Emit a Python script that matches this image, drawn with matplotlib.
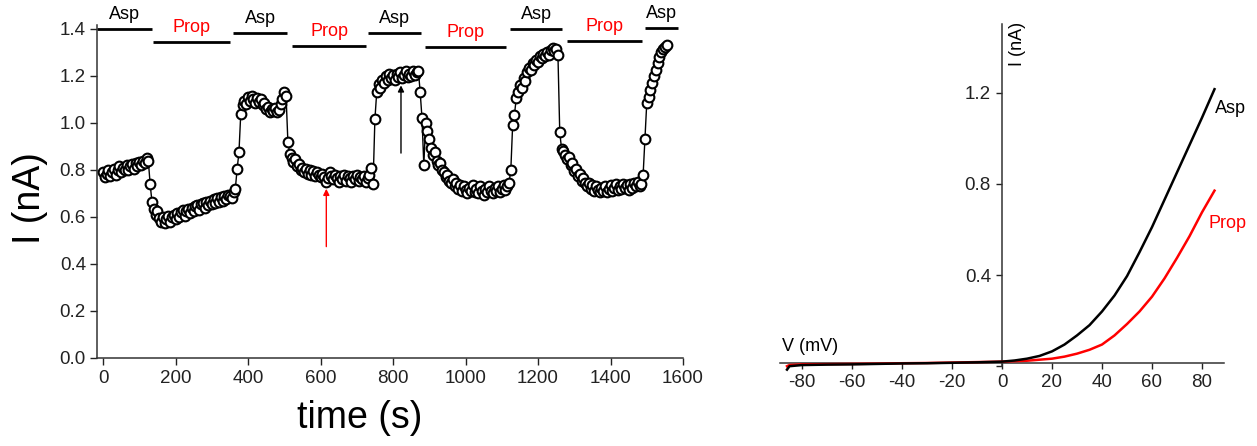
import numpy as np
import matplotlib
matplotlib.use("Agg")
import matplotlib.pyplot as plt

plt.rcParams['font.family'] = ['Liberation Sans', 'DejaVu Sans']

# ---------------- Left panel: current vs time (sampled every 5 s) ----------------
seg_starts = [0, 130, 370, 510, 750, 875, 1125, 1260, 1490]
seg1 = [0.790, 0.770, 0.785, 0.800, 0.775, 0.790, 0.805, 0.780, 0.800, 0.815,
        0.790, 0.810, 0.800, 0.820, 0.800, 0.815, 0.825, 0.805, 0.830, 0.815,
        0.835, 0.820, 0.840, 0.830, 0.850, 0.840]
seg2 = [0.740, 0.665, 0.635, 0.610, 0.625, 0.595, 0.580, 0.600, 0.575, 0.590,
        0.605, 0.580, 0.600, 0.610, 0.590, 0.615, 0.600, 0.620, 0.630, 0.605,
        0.625, 0.635, 0.615, 0.640, 0.625, 0.645, 0.650, 0.630, 0.655, 0.660,
        0.640, 0.665, 0.650, 0.670, 0.655, 0.675, 0.660, 0.680, 0.665, 0.685,
        0.670, 0.690, 0.675, 0.695, 0.690, 0.680, 0.705, 0.720]
seg3 = [0.805, 0.875, 1.040, 1.075, 1.095, 1.080, 1.110, 1.095, 1.115, 1.100,
        1.085, 1.105, 1.090, 1.100, 1.075, 1.085, 1.060, 1.070, 1.045, 1.060,
        1.050, 1.065, 1.045, 1.055, 1.080, 1.100, 1.130, 1.115]
seg4 = [0.920, 0.870, 0.850, 0.835, 0.845, 0.815, 0.825, 0.800, 0.810, 0.790,
        0.805, 0.785, 0.800, 0.780, 0.795, 0.775, 0.790, 0.780, 0.770, 0.785,
        0.770, 0.750, 0.765, 0.790, 0.775, 0.760, 0.780, 0.765, 0.750, 0.775,
        0.760, 0.780, 0.755, 0.775, 0.765, 0.750, 0.775, 0.760, 0.780, 0.755,
        0.770, 0.760, 0.775, 0.750, 0.765, 0.780, 0.810, 0.740]
seg5 = [1.015, 1.130, 1.165, 1.150, 1.185, 1.170, 1.200, 1.185, 1.210, 1.190,
        1.205, 1.185, 1.210, 1.195, 1.215, 1.190, 1.205, 1.220, 1.195, 1.210,
        1.200, 1.220, 1.205, 1.215, 1.222]
seg6 = [1.130, 1.020, 0.820, 1.000, 0.965, 0.930, 0.895, 0.865, 0.875, 0.840,
        0.820, 0.830, 0.800, 0.790, 0.770, 0.780, 0.755, 0.745, 0.760, 0.730,
        0.745, 0.720, 0.735, 0.710, 0.730, 0.715, 0.700, 0.725, 0.710, 0.735,
        0.705, 0.720, 0.700, 0.730, 0.710, 0.695, 0.720, 0.705, 0.730, 0.710,
        0.700, 0.725, 0.710, 0.730, 0.705, 0.720, 0.735, 0.715, 0.730, 0.745]
seg7 = [0.800, 0.990, 1.035, 1.105, 1.130, 1.160, 1.150, 1.190, 1.180, 1.215,
        1.235, 1.225, 1.255, 1.245, 1.270, 1.260, 1.285, 1.275, 1.295, 1.285,
        1.300, 1.290, 1.310, 1.320, 1.305, 1.315, 1.290]
seg8 = [0.960, 0.890, 0.880, 0.865, 0.845, 0.855, 0.820, 0.830, 0.795, 0.805,
        0.775, 0.785, 0.755, 0.765, 0.745, 0.730, 0.745, 0.720, 0.735, 0.710,
        0.730, 0.715, 0.705, 0.725, 0.710, 0.730, 0.705, 0.720, 0.735, 0.710,
        0.725, 0.740, 0.715, 0.730, 0.720, 0.740, 0.725, 0.735, 0.715, 0.740,
        0.725, 0.745, 0.730, 0.750, 0.730, 0.740]
seg9 = [0.780, 0.930, 1.085, 1.110, 1.140, 1.170, 1.200, 1.225, 1.255, 1.280,
        1.300, 1.315, 1.325, 1.330]
segments = [seg1, seg2, seg3, seg4, seg5, seg6, seg7, seg8, seg9]
dt = 5

# perfusion periods (s) shown as bars on top
periods = [(-17, 135), (138, 351), (359, 508), (522, 726), (732, 876),
           (889, 1113), (1124, 1265), (1279, 1486), (1494, 1585)]
period_labels = ['Asp', 'Prop', 'Asp', 'Prop', 'Asp', 'Prop', 'Asp', 'Prop', 'Asp']
bar_levels = [1.400, 1.345, 1.383, 1.328, 1.383, 1.323, 1.400, 1.349, 1.404]

time_ticks = [0, 200, 400, 600, 800, 1000, 1200, 1400, 1600]
current_ticks = [0.0, 0.2, 0.4, 0.6, 0.8, 1.0, 1.2, 1.4]

# ---------------- Right panel: I-V curves ----------------
V_asp = [-86, -85, -80, -70, -60, -50, -40, -30, -20, -10, 0, 5, 10, 15, 20, 25,
         30, 35, 40, 45, 50, 55, 60, 65, 70, 75, 80, 85]
I_asp = [-0.015, 0.000, 0.005, 0.007, 0.008, 0.010, 0.012, 0.013, 0.015, 0.017,
         0.020, 0.025, 0.033, 0.045, 0.065, 0.095, 0.135, 0.180, 0.240, 0.310,
         0.395, 0.500, 0.610, 0.730, 0.850, 0.970, 1.090, 1.215]
V_prop = [-86, -85, -80, -70, -60, -50, -40, -30, -20, -10, 0, 10, 20, 25, 30, 35,
          40, 45, 50, 55, 60, 65, 70, 75, 80, 85]
I_prop = [0.000, 0.005, 0.008, 0.009, 0.010, 0.011, 0.013, 0.014, 0.016, 0.018,
          0.020, 0.024, 0.033, 0.042, 0.055, 0.072, 0.095, 0.135, 0.185, 0.240,
          0.305, 0.385, 0.475, 0.570, 0.675, 0.770]
iv_xticks = [-80, -60, -40, -20, 0, 20, 40, 60, 80]
iv_yticks = [0.0, 0.4, 0.8, 1.2]

W, H = 1257, 446
fig = plt.figure(figsize=(W / 100, H / 100), dpi=100)

# ---- left axes ----
ax1 = fig.add_axes([97 / W, (H - 358) / H, (683 - 97) / W, (358 - 25) / H])
t_all, i_all = [], []
for start, seg in zip(seg_starts, segments):
    t_all.extend(start + dt * np.arange(len(seg)))
    i_all.extend(seg)
ax1.plot(t_all, i_all, '-', color='black', lw=1.0, marker='o', ms=7.0,
         mfc='white', mec='black', mew=1.5, zorder=3)
ax1.set_xlim(-16.6, 1600)
ax1.set_ylim(0, 1.417)
ax1.set_xticks(time_ticks)
ax1.set_yticks(current_ticks)
ax1.set_yticklabels([f'{v:.1f}' for v in current_ticks])
for s in ['top', 'right']:
    ax1.spines[s].set_visible(False)
for s in ['left', 'bottom']:
    ax1.spines[s].set_linewidth(1.1)
    ax1.spines[s].set_color('#333333')
ax1.tick_params(direction='out', length=5, width=1, labelsize=13.5, colors='#222222')
ax1.tick_params(axis='y', pad=3)

for (a, b), lab, lev in zip(periods, period_labels, bar_levels):
    col = 'red' if lab == 'Prop' else 'black'
    ax1.plot([a, b], [lev, lev], color='black', lw=2.0, clip_on=False,
             solid_capstyle='butt')
    ax1.text((a + b) / 2, lev + 0.025, lab, color=col, fontsize=13,
             ha='center', va='bottom', clip_on=False)

ax1.annotate('', xy=(616, 0.72), xytext=(616, 0.474),
             arrowprops=dict(arrowstyle='-|>', color='red', lw=1.0,
                             mutation_scale=9, shrinkA=0, shrinkB=0))
ax1.annotate('', xy=(822, 1.16), xytext=(822, 0.872),
             arrowprops=dict(arrowstyle='-|>', color='black', lw=1.0,
                             mutation_scale=9, shrinkA=0, shrinkB=0))

fig.text(30 / W, 1 - 198 / H, 'I (nA)', rotation=90, fontsize=27,
         ha='center', va='center')
fig.text(360 / W, 1 - 418 / H, 'time (s)', fontsize=27,
         ha='center', va='center')

# ---- right axes ----
ax2 = fig.add_axes([780 / W, (H - 377.6) / H, 444 / W, (377.6 - 24.2) / H])
ax2.plot(V_prop, I_prop, color='red', lw=1.8, zorder=3)
ax2.plot(V_asp, I_asp, color='black', lw=1.8, zorder=4)
ax2.set_xlim(-88.8, 88.8)
ax2.set_ylim(-0.05, 1.5)
ax2.spines['left'].set_position(('data', 0))
ax2.spines['bottom'].set_position(('data', 0.015))
ax2.spines['left'].set_bounds(0.0, 1.5)
for s in ['top', 'right']:
    ax2.spines[s].set_visible(False)
for s in ['left', 'bottom']:
    ax2.spines[s].set_linewidth(1.1)
    ax2.spines[s].set_color('#333333')
ax2.set_xticks(iv_xticks)
ax2.set_xticklabels([str(v) for v in iv_xticks])
ax2.set_yticks(iv_yticks)
ax2.set_yticklabels(['' if v == 0 else f'{v:.1f}' for v in iv_yticks])
ax2.tick_params(direction='out', length=4, width=1, labelsize=13.5, colors='#222222')
ax2.tick_params(axis='x', pad=4)
ax2.tick_params(axis='y', pad=4)

ax2.text(6.4, 1.413, 'I (nA)', rotation=90, fontsize=13, ha='center', va='center')
ax2.text(-88, 0.085, 'V (mV)', fontsize=13, ha='left', va='center')
ax2.text(91.2, 1.13, 'Asp', fontsize=13, ha='center', va='center', clip_on=False)
ax2.text(90.2, 0.628, 'Prop', fontsize=13, color='red', ha='center', va='center',
         clip_on=False)

fig.savefig('out.png', dpi=100)
